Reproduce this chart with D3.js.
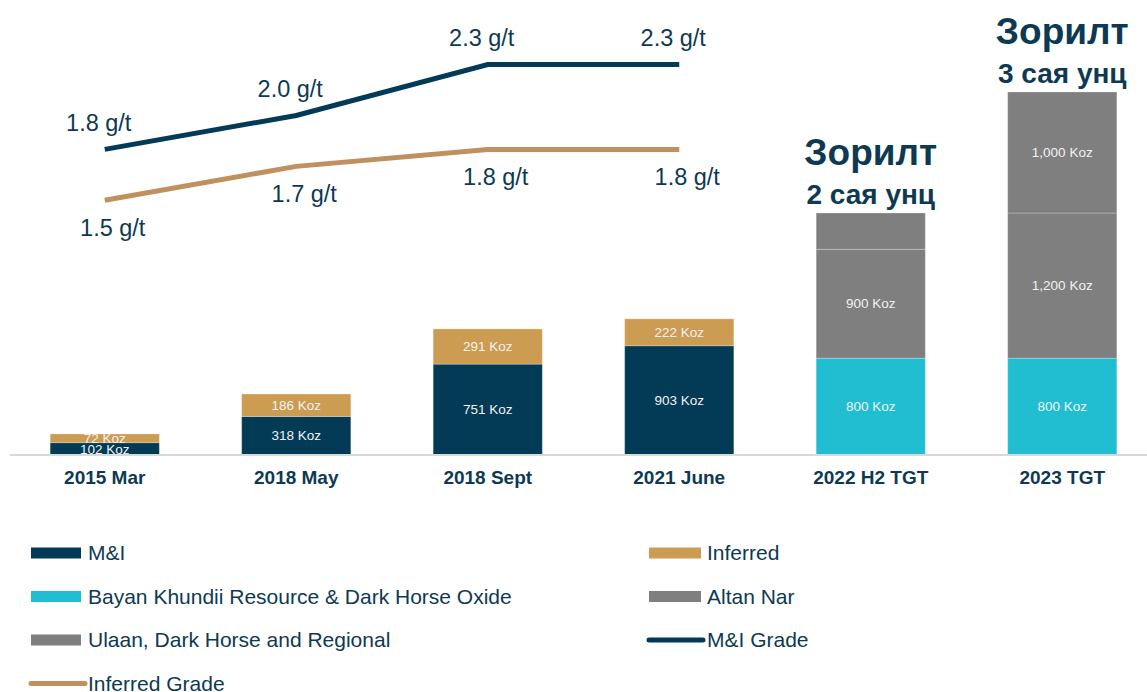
<!DOCTYPE html>
<html>
<head>
<meta charset="utf-8">
<script src="https://cdn.jsdelivr.net/npm/d3@7"></script>
<style>
  body { margin: 0; background: #fff; }
  text { font-family: "Liberation Sans", Arial, sans-serif; }
</style>
</head>
<body>
<div id="chart"></div>
<script>
'use strict';

// categories along the x axis
const categories = ["2015 Mar", "2018 May", "2018 Sept", "2021 June", "2022 H2 TGT", "2023 TGT"];

// stacked resource values (Koz)
const mAndI      = [102, 318, 751, 903, 0, 0];
const inferred   = [72, 186, 291, 222, 0, 0];
const bayan      = [0, 0, 0, 0, 800, 800];
const altanNar   = [0, 0, 0, 0, 900, 1200];
const ulaan      = [0, 0, 0, 0, 300, 1000];
// which segments carry a label
const ulaanLabelled = [false, false, false, false, false, true];

// grade lines (g/t), first four periods
const gradeCats     = ["2015 Mar", "2018 May", "2018 Sept", "2021 June"];
const mAndIGrade    = [1.8, 2.0, 2.3, 2.3];
const inferredGrade = [1.5, 1.7, 1.8, 1.8];

// target annotations
const targetCats   = ["2022 H2 TGT", "2023 TGT"];
const targetTitle  = ["Зорилт", "Зорилт"];
const targetAmount = ["2 сая унц", "3 сая унц"];

const legendItems = [
  { name: "M&I", color: "#033a56", type: "bar" },
  { name: "Inferred", color: "#cb9c52", type: "bar" },
  { name: "Bayan Khundii Resource & Dark Horse Oxide", color: "#21bed2", type: "bar" },
  { name: "Altan Nar", color: "#7f7f7f", type: "bar" },
  { name: "Ulaan, Dark Horse and Regional", color: "#7f7f7f", type: "bar" },
  { name: "M&I Grade", color: "#033a56", type: "line" },
  { name: "Inferred Grade", color: "#c0915e", type: "line" }
];

const width = 1147, height = 692;
const baseY = 455;
const textColor = "#0d3a52";

const svg = d3.select("#chart").append("svg")
  .attr("width", width)
  .attr("height", height);

// scales
const x = d3.scaleBand()
  .domain(categories)
  .range([9, 1158])
  .paddingInner(0.43)
  .paddingOuter(0.215);

const yKoz = d3.scaleLinear().domain([0, 3760]).range([baseY, 0]);
const yGrade = d3.scaleLinear().domain([0, 2.68]).range([baseY, 0]);

// build stacked table
const series = [
  { key: "mi", values: mAndI, color: "#033a56", show: i => true },
  { key: "inf", values: inferred, color: "#cb9c52", show: i => true },
  { key: "bayan", values: bayan, color: "#21bed2", show: i => true },
  { key: "altan", values: altanNar, color: "#7f7f7f", show: i => true },
  { key: "ulaan", values: ulaan, color: "#7f7f7f", show: i => ulaanLabelled[i] }
];

const table = categories.map((c, i) => {
  const row = { cat: c };
  series.forEach(s => { row[s.key] = s.values[i]; });
  return row;
});

const stacked = d3.stack().keys(series.map(s => s.key))(table);

const barG = svg.append("g");
stacked.forEach((layer, li) => {
  const s = series[li];
  barG.append("g").selectAll("rect")
    .data(layer)
    .enter()
    .filter(d => d[1] > d[0])
    .append("rect")
    .attr("x", d => x(d.data.cat))
    .attr("y", d => yKoz(d[1]))
    .attr("width", x.bandwidth())
    .attr("height", d => yKoz(d[0]) - yKoz(d[1]))
    .attr("fill", s.color)
    .attr("stroke", "#ffffff")
    .attr("stroke-opacity", 0.25)
    .attr("stroke-width", 1);
});

// segment labels
stacked.forEach((layer, li) => {
  const s = series[li];
  barG.append("g").selectAll("text")
    .data(layer)
    .enter()
    .filter(d => d[1] > d[0] && s.show(categories.indexOf(d.data.cat)))
    .append("text")
    .attr("x", d => x(d.data.cat) + x.bandwidth() / 2)
    .attr("y", d => (yKoz(d[0]) + yKoz(d[1])) / 2)
    .attr("dy", "0.35em")
    .attr("text-anchor", "middle")
    .attr("font-size", 13.5)
    .attr("fill", "#f2f2f2")
    .text(d => d3.format(",")(d[1] - d[0]) + " Koz");
});

// axis line
svg.append("line")
  .attr("x1", 10).attr("x2", width)
  .attr("y1", baseY).attr("y2", baseY)
  .attr("stroke", "#d9d9d9")
  .attr("stroke-width", 2);

// category labels
const xAxis = svg.append("g")
  .attr("transform", `translate(0,${baseY})`)
  .call(d3.axisBottom(x).tickSize(0).tickPadding(16));
xAxis.select(".domain").remove();
xAxis.selectAll("text")
  .attr("font-size", 19)
  .attr("font-weight", "bold")
  .attr("font-family", "Liberation Sans, Arial, sans-serif")
  .attr("fill", textColor);

// grade lines
const cx = c => x(c) + x.bandwidth() / 2;
const line = d3.line()
  .x((d, i) => cx(gradeCats[i]))
  .y(d => yGrade(d));

svg.append("path")
  .datum(inferredGrade)
  .attr("d", line)
  .attr("fill", "none")
  .attr("stroke", "#c0915e")
  .attr("stroke-width", 5);

svg.append("path")
  .datum(mAndIGrade)
  .attr("d", line)
  .attr("fill", "none")
  .attr("stroke", "#033a56")
  .attr("stroke-width", 5);

svg.append("g").selectAll("text")
  .data(mAndIGrade)
  .enter()
  .append("text")
  .attr("x", (d, i) => cx(gradeCats[i]) - 6)
  .attr("y", d => yGrade(d) - 27)
  .attr("dy", "0.35em")
  .attr("text-anchor", "middle")
  .attr("font-size", 23.5)
  .attr("fill", textColor)
  .text(d => d.toFixed(1) + " g/t");

svg.append("g").selectAll("text")
  .data(inferredGrade)
  .enter()
  .append("text")
  .attr("x", (d, i) => cx(gradeCats[i]) + 8)
  .attr("y", d => yGrade(d) + 27)
  .attr("dy", "0.35em")
  .attr("text-anchor", "middle")
  .attr("font-size", 23.5)
  .attr("fill", textColor)
  .text(d => d.toFixed(1) + " g/t");

// target annotations above the target bars
const totals = table.map(r => series.reduce((a, s) => a + r[s.key], 0));
targetCats.forEach((c, i) => {
  const top = yKoz(totals[categories.indexOf(c)]);
  svg.append("text")
    .attr("x", cx(c))
    .attr("y", top - 48)
    .attr("text-anchor", "middle")
    .attr("font-size", 37)
    .attr("font-weight", "bold")
    .attr("fill", textColor)
    .text(targetTitle[i]);
  svg.append("text")
    .attr("x", cx(c))
    .attr("y", top - 9)
    .attr("text-anchor", "middle")
    .attr("font-size", 28)
    .attr("font-weight", "bold")
    .attr("fill", textColor)
    .text(targetAmount[i]);
});

// legend, two columns
const legend = svg.append("g");
legendItems.forEach((item, i) => {
  const col = i % 2, row = Math.floor(i / 2);
  const lx = col === 0 ? 31 : 649;
  const ly = 553 + row * 43.5;
  const g = legend.append("g").attr("transform", `translate(${lx},${ly})`);
  if (item.type === "bar") {
    g.append("rect")
      .attr("x", 0).attr("y", -5.5)
      .attr("width", col === 0 ? 50 : 52).attr("height", 11)
      .attr("fill", item.color);
  } else {
    g.append("line")
      .attr("x1", 0).attr("x2", 54)
      .attr("y1", 0).attr("y2", 0)
      .attr("stroke", item.color)
      .attr("stroke-width", 5)
      .attr("stroke-linecap", "round");
  }
  g.append("text")
    .attr("x", col === 0 ? 57 : 58)
    .attr("y", 0)
    .attr("dy", "0.35em")
    .attr("font-size", 21)
    .attr("fill", textColor)
    .text(item.name);
});
</script>
</body>
</html>
